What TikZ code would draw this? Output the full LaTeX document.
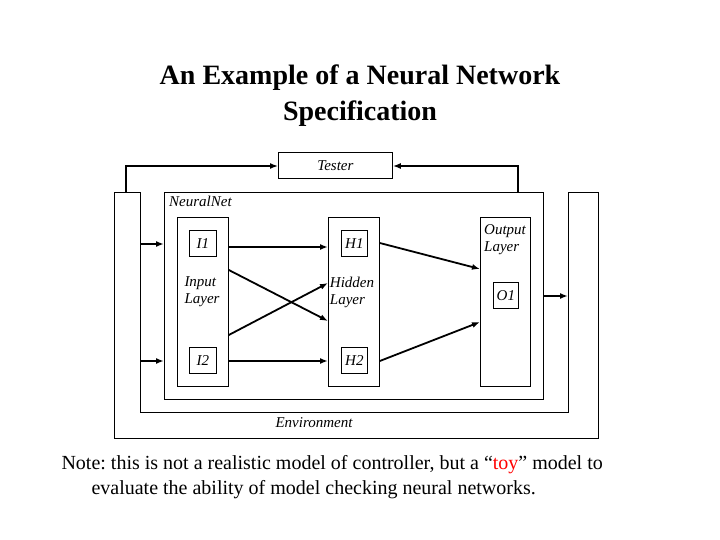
\documentclass[tikz,border=0pt]{standalone}
\usepackage{fontspec}
\setmainfont{Liberation Serif}
\usetikzlibrary{arrows.meta}
\frenchspacing
\begin{document}
\begin{tikzpicture}[x=1pt,y=-1pt,
 box/.style={draw,line width=0.8pt,anchor=north west,inner sep=0pt},
 lbl/.style={font=\fontsize{15}{17}\selectfont\itshape,align=left,inner sep=0pt},
 ar/.style={line width=1.8pt,-{Latex[length=8pt,width=6pt]}}]
\useasboundingbox (0,0) rectangle (720,540);
\node[font=\fontsize{28}{36}\selectfont\bfseries,align=center] (title) at (360,96) {An Example of a Neural Network\\Specification};
% environment
\draw[line width=0.8pt] (114,192)--(140,192)--(140,412)--(568,412)--(568,192)--(598,192)--(598,438)--(114,438)--cycle;
\node[lbl] (env) at (314,423) {Environment};
\node[box,minimum width=114pt,minimum height=26pt] (tester) at (278,152) {};
\node[lbl] (testerl) at (tester.center) {Tester};
\node[box,minimum width=379pt,minimum height=207pt] (nn) at (164,192) {};
\node[lbl,anchor=north west] (nnl) at (169,196) {NeuralNet};
\node[box,minimum width=51pt,minimum height=169pt] (inl) at (177,217) {};
\node[box,minimum width=51pt,minimum height=169pt] (hl) at (328,217) {};
\node[box,minimum width=50pt,minimum height=169pt] (ol) at (480,217) {};
\node[box,minimum width=27pt,minimum height=26pt] (i1) at (189,230) {};
\node[lbl] at (i1.center) {I1};
\node[box,minimum width=27pt,minimum height=26pt] (i2) at (189,347) {};
\node[lbl] at (i2.center) {I2};
\node[box,minimum width=26pt,minimum height=26pt] (h1) at (341,230) {};
\node[lbl] at (h1.center) {H1};
\node[box,minimum width=26pt,minimum height=26pt] (h2) at (341,347) {};
\node[lbl] at (h2.center) {H2};
\node[box,minimum width=25pt,minimum height=26pt] (o1) at (493,282) {};
\node[lbl] at (o1.center) {O1};
\node[lbl] (inlbl) at (202,292) {Input\\Layer};
\node[lbl] (hlbl) at (352,292) {Hidden\\Layer};
\node[lbl] (olbl) at (505,240) {Output\\Layer};
% tester loops
\coordinate (e1) at (126,192); \coordinate (e2) at (518,192);
\draw[ar,line width=1.5pt] (e1)--(126,166)--(tester.west|-0,166);
\draw[ar,line width=1.5pt] (e2)--(518,166)--(tester.east|-0,166);
\draw[ar] (140,244)--(nn.west|-0,244);
\draw[ar] (140,361)--(nn.west|-0,361);
\draw[ar] (nn.east|-0,296)--(568,296);
\draw[ar] (inl.east|-0,247)--(hl.west|-0,247);
\draw[ar] (inl.east|-0,270)--(hl.west|-0,321);
\draw[ar] (inl.east|-0,335)--(hl.west|-0,283);
\draw[ar] (inl.east|-0,361)--(hl.west|-0,361);
\draw[ar] (hl.east|-0,243)--(ol.west|-0,269);
\draw[ar] (hl.east|-0,361)--(ol.west|-0,322);
\node[font=\fontsize{20}{25}\selectfont,align=left,anchor=north west] (note) at (58,452) {Note: this is not a realistic model of controller, but a ``\textcolor{red}{toy}'' model to\\\hspace*{30pt}evaluate the ability of model checking neural networks.};
\end{tikzpicture}
\end{document}
